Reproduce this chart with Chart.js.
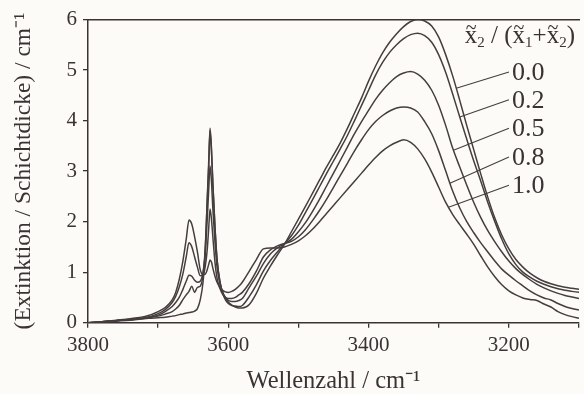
<!DOCTYPE html>
<html><head><meta charset="utf-8">
<script src="https://cdn.jsdelivr.net/npm/chart.js@4.4.1/dist/chart.umd.min.js"></script>
<style>html,body{margin:0;padding:0;background:#fcfbf8;}canvas{display:block;}</style>
</head><body>
<canvas id="c" width="584" height="394"></canvas>
<script>
// ---- data ----
const wavenumbers = [
  3800,3780,3760,3740,3720,3710,3700,3690,3680,3675,
  3670,3665,3660,3656,3652,3648,3644,3640,3636,3633,
  3630,3628,3626,3624,3622,3619,3616,3612,3608,3604,
  3600,3595,3590,3585,3580,3570,3560,3550,3540,3530,
  3520,3510,3500,3490,3480,3470,3460,3450,3440,3430,
  3420,3410,3400,3390,3380,3370,3360,3350,3340,3330,
  3320,3310,3300,3290,3280,3270,3260,3250,3240,3230,
  3220,3210,3200,3190,3180,3170,3160,3150,3140,3130,
  3120,3110,3100
];
const absorb_00 = [
  0.00,0.01,0.03,0.05,0.08,0.09,0.10,0.11,0.13,0.14,
  0.16,0.17,0.19,0.20,0.21,0.23,0.28,0.45,0.80,1.35,
  2.45,3.15,3.85,3.45,2.75,1.90,1.25,0.82,0.60,0.48,
  0.41,0.35,0.31,0.29,0.29,0.36,0.58,0.88,1.12,1.34,
  1.55,1.80,2.05,2.30,2.56,2.82,3.08,3.32,3.57,3.85,
  4.15,4.45,4.78,5.08,5.34,5.55,5.72,5.86,5.96,6.00,
  5.97,5.87,5.65,5.30,4.88,4.40,3.90,3.42,2.94,2.48,
  2.07,1.73,1.46,1.25,1.10,0.98,0.89,0.82,0.77,0.73,
  0.70,0.68,0.66
];
const absorb_02 = [
  0.00,0.02,0.04,0.06,0.09,0.11,0.13,0.17,0.22,0.27,
  0.34,0.45,0.55,0.62,0.72,0.60,0.70,0.72,0.95,1.45,
  2.40,3.05,3.80,3.40,2.75,1.90,1.25,0.82,0.58,0.45,
  0.38,0.34,0.33,0.32,0.34,0.52,0.75,1.02,1.23,1.40,
  1.56,1.72,1.93,2.18,2.43,2.69,2.95,3.20,3.45,3.71,
  4.00,4.30,4.60,4.90,5.15,5.35,5.50,5.62,5.70,5.73,
  5.68,5.55,5.30,4.95,4.52,4.07,3.63,3.20,2.80,2.38,
  2.00,1.65,1.36,1.15,1.00,0.90,0.82,0.76,0.71,0.67,
  0.64,0.62,0.60
];
const absorb_05 = [
  0.00,0.02,0.04,0.06,0.09,0.11,0.15,0.22,0.32,0.40,
  0.50,0.65,0.82,0.94,0.92,0.84,0.80,0.82,1.00,1.35,
  2.05,2.60,3.10,2.80,2.25,1.60,1.10,0.78,0.60,0.50,
  0.44,0.42,0.42,0.44,0.48,0.70,0.92,1.17,1.36,1.48,
  1.56,1.65,1.80,1.98,2.20,2.44,2.70,2.96,3.22,3.48,
  3.74,3.98,4.20,4.42,4.60,4.75,4.87,4.94,4.97,4.92,
  4.80,4.60,4.30,3.90,3.45,3.08,2.72,2.38,2.08,1.82,
  1.60,1.40,1.22,1.07,0.95,0.85,0.76,0.69,0.63,0.58,
  0.54,0.51,0.48
];
const absorb_08 = [
  0.00,0.02,0.04,0.07,0.10,0.13,0.18,0.26,0.40,0.52,
  0.70,0.95,1.30,1.58,1.50,1.30,1.10,0.93,0.95,1.10,
  1.45,1.85,2.25,2.05,1.70,1.20,0.88,0.68,0.56,0.50,
  0.48,0.48,0.50,0.55,0.60,0.78,1.02,1.30,1.44,1.52,
  1.57,1.61,1.70,1.84,2.02,2.22,2.44,2.68,2.92,3.16,
  3.40,3.62,3.82,3.98,4.10,4.19,4.25,4.27,4.25,4.17,
  3.98,3.74,3.40,3.00,2.60,2.27,2.00,1.78,1.58,1.40,
  1.22,1.06,0.94,0.83,0.73,0.63,0.55,0.49,0.45,0.38,
  0.32,0.28,0.25
];
const absorb_10 = [
  0.00,0.02,0.05,0.08,0.12,0.16,0.22,0.30,0.45,0.60,
  0.85,1.20,1.65,2.03,1.95,1.70,1.40,1.05,0.95,0.96,
  1.05,1.15,1.24,1.20,1.08,0.92,0.80,0.70,0.64,0.61,
  0.60,0.62,0.66,0.72,0.80,1.02,1.25,1.46,1.48,1.48,
  1.50,1.55,1.62,1.72,1.85,2.00,2.16,2.32,2.48,2.64,
  2.80,2.96,3.12,3.27,3.40,3.50,3.57,3.62,3.57,3.44,
  3.24,2.98,2.68,2.38,2.14,1.94,1.75,1.55,1.32,1.10,
  0.91,0.75,0.63,0.55,0.49,0.46,0.44,0.37,0.31,0.22,
  0.16,0.12,0.09
];
const seriesLabels = ['0.0','0.2','0.5','0.8','1.0'];
const allSeries = [absorb_00, absorb_02, absorb_05, absorb_08, absorb_10];
const xTickLabels = [3800, 3600, 3400, 3200];
const yTicks = [0,1,2,3,4,5,6];
// where each leader line touches its curve (wavenumber)
const leaderTouchX = [3275, 3270, 3279, 3284, 3286];

// ---- styling / annotation placement ----
const FONT = "'Liberation Serif','Times New Roman',serif";
const INK = '#3a3333';
const LINE = '#463e3e';
const labelAnchor = { x: 3197, y: [4.96, 4.41, 3.85, 3.28, 2.72] };

function interp(vals, xv) {
  for (let j = 0; j < wavenumbers.length - 1; j++) {
    const a = wavenumbers[j], b = wavenumbers[j + 1];
    if (xv <= a && xv >= b) {
      const t = (a - xv) / (a - b);
      return vals[j] + t * (vals[j + 1] - vals[j]);
    }
  }
  return vals[vals.length - 1];
}

const annot = {
  id: 'annot',
  afterDraw(chart) {
    const { ctx, scales: { x, y }, chartArea } = chart;
    ctx.save();
    ctx.strokeStyle = LINE;
    ctx.lineWidth = 1.1;
    ctx.fillStyle = INK;
    ctx.font = '26px ' + FONT;
    ctx.textBaseline = 'middle';
    ctx.textAlign = 'left';
    seriesLabels.forEach((lab, i) => {
      const xs = leaderTouchX[i];
      const px = x.getPixelForValue(xs), py = y.getPixelForValue(interp(allSeries[i], xs));
      const lx = x.getPixelForValue(labelAnchor.x), ly = y.getPixelForValue(labelAnchor.y[i]);
      ctx.beginPath(); ctx.moveTo(px, py); ctx.lineTo(lx - 2, ly); ctx.stroke();
      ctx.fillText(lab, lx + 1, ly + 1);
    });
    // legend title: x̃2 / (x̃1+x̃2)
    const runs = [
      { t: 'x', tilde: true }, { t: '2', sub: true }, { t: ' / (' },
      { t: 'x', tilde: true }, { t: '1', sub: true }, { t: '+' },
      { t: 'x', tilde: true }, { t: '2', sub: true }, { t: ')' }
    ];
    const big = '25px ' + FONT, small = '15px ' + FONT;
    let total = 0;
    runs.forEach(r => { ctx.font = r.sub ? small : big; r.w = ctx.measureText(r.t).width; total += r.w; });
    let cx = chartArea.right - 4 - total;
    const base = chartArea.top + 23.5;
    ctx.textBaseline = 'alphabetic';
    runs.forEach(r => {
      ctx.font = r.sub ? small : big;
      ctx.fillText(r.t, cx, base + (r.sub ? 4 : 0));
      if (r.tilde) {
        ctx.font = '20px ' + FONT;
        ctx.textAlign = 'center';
        ctx.fillText('~', cx + r.w / 2, base - 9.5);
        ctx.textAlign = 'left';
      }
      cx += r.w;
    });
    ctx.restore();
  }
};

const datasets = allSeries.map((vals, i) => ({
  label: seriesLabels[i],
  data: wavenumbers.map((wx, j) => ({ x: wx, y: vals[j] })),
  borderColor: LINE,
  borderWidth: 1.5,
  pointRadius: 0,
  fill: false,
  cubicInterpolationMode: 'monotone'
}));

new Chart(document.getElementById('c'), {
  type: 'line',
  data: { datasets },
  plugins: [annot],
  options: {
    responsive: false,
    animation: false,
    devicePixelRatio: 1,
    layout: { padding: 0 },
    plugins: { legend: { display: false }, tooltip: { enabled: false } },
    scales: {
      x: {
        type: 'linear', position: 'bottom', reverse: true, min: 3100, max: 3800,
        ticks: { stepSize: 100, autoSkip: false, maxRotation: 0, color: INK, padding: 5,
          font: { family: FONT, size: 21 },
          callback: v => xTickLabels.includes(v) ? String(v) : '' },
        grid: { display: true, drawOnChartArea: false, drawTicks: true, tickLength: 5, color: INK, lineWidth: 1.3 },
        border: { display: true, color: INK, width: 1.5 },
        title: { display: true, text: 'Wellenzahl / cm\u207B\u00B9', color: INK,
          font: { family: FONT, size: 24.5, lineHeight: 1 }, padding: { top: 0, bottom: 0 } },
        afterFit(s) { s.height = 71.3; }
      },
      xTop: {
        axis: 'x', type: 'linear', position: 'top', reverse: true, min: 3100, max: 3800,
        ticks: { display: false }, grid: { display: false },
        border: { display: true, color: INK, width: 1.5 },
        afterFit(s) { s.height = 19.5; }
      },
      y: {
        type: 'linear', position: 'left', min: 0, max: 6,
        afterBuildTicks(s) { s.ticks = yTicks.map(v => ({ value: v })); },
        ticks: { color: INK, padding: 6, font: { family: FONT, size: 21 } },
        grid: { display: true, drawOnChartArea: false, drawTicks: true, tickLength: 5, color: INK, lineWidth: 1.3 },
        border: { display: true, color: INK, width: 1.5 },
        title: { display: true, text: '(Extinktion / Schichtdicke) / cm\u207B\u00B9', color: INK,
          font: { family: FONT, size: 23.5, lineHeight: 1 }, padding: { top: 12, bottom: 0 } },
        afterFit(s) { s.width = 88; }
      }
    }
  }
});
</script>
</body></html>
